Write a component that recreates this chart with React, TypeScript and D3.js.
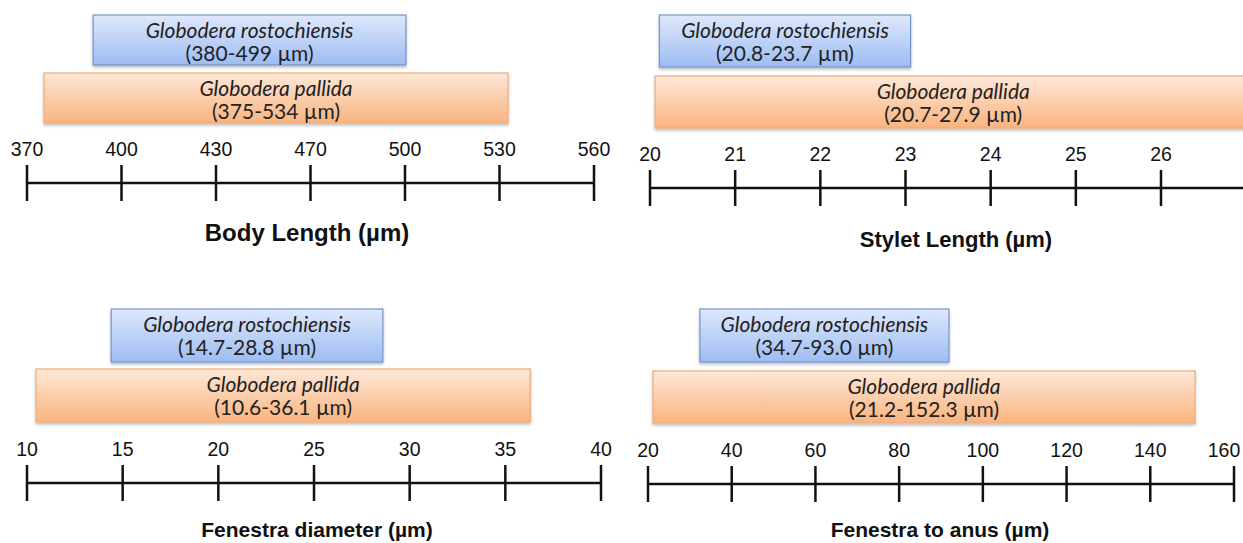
import React, { useEffect, useRef } from 'react'
import * as d3 from 'd3'

// tick labels of each number line
const bodyTicks = [370, 400, 430, 470, 500, 530, 560]
const styletTicks = [20, 21, 22, 23, 24, 25, 26]
const diameterTicks = [10, 15, 20, 25, 30, 35, 40]
const anusTicks = [20, 40, 60, 80, 100, 120, 140, 160]

const titles = ['Body Length (µm)', 'Stylet Length (µm)', 'Fenestra diameter (µm)', 'Fenestra to anus (µm)']
const species = ['Globodera rostochiensis', 'Globodera pallida']

// the ranges written inside the boxes
const rostoLabels = ['(380-499 µm)', '(20.8-23.7 µm)', '(14.7-28.8 µm)', '(34.7-93.0 µm)']
const pallidaLabels = ['(375-534 µm)', '(20.7-27.9 µm)', '(10.6-36.1 µm)', '(21.2-152.3 µm)']

// where the boxes actually sit against each axis
const rostoSpans = [[391, 500.3], [20.11, 23.06], [14.4, 28.6], [32.4, 91.9]]
const pallidaSpans = [[375.4, 532.7], [20.06, 27.06], [10.47, 36.3], [21.2, 150.7]]

const W = 1243
const H = 543

// layout of each panel
const panels = [
  { ticks: bodyTicks, x0: 27, x1: 594, lineEnd: 594, axisY: 183, rosto: [15, 50], pallida: [73, 50], titleX: 307, titleY: 241, titleSize: 24 },
  { ticks: styletTicks, x0: 650, x1: 1161, lineEnd: 1250, axisY: 188, rosto: [15, 52], pallida: [76, 52], titleX: 956, titleY: 247, titleSize: 22 },
  { ticks: diameterTicks, x0: 27, x1: 601, lineEnd: 601, axisY: 483, rosto: [309, 53], pallida: [369, 53], titleX: 317, titleY: 537, titleSize: 21 },
  { ticks: anusTicks, x0: 648, x1: 1234, lineEnd: 1234, axisY: 484, rosto: [309, 53], pallida: [371, 52], titleX: 940, titleY: 537, titleSize: 21 },
]

export default function App() {
  const ref = useRef<SVGSVGElement>(null)

  useEffect(() => {
    const svg = d3.select(ref.current)
    svg.selectAll('*').remove()

    const defs = svg.append('defs')
    const grad = (id: string, top: string, bottom: string) => {
      const g = defs.append('linearGradient').attr('id', id).attr('x1', 0).attr('y1', 0).attr('x2', 0).attr('y2', 1)
      g.append('stop').attr('offset', '0%').attr('stop-color', top)
      g.append('stop').attr('offset', '100%').attr('stop-color', bottom)
    }
    grad('blue', '#dfe8fc', '#9dbcf2')
    grad('orange', '#fee8d8', '#f9b47f')
    defs.append('filter').attr('id', 'shadow').attr('x', '-5%').attr('y', '-10%').attr('width', '110%').attr('height', '130%')
      .append('feDropShadow').attr('dx', 0).attr('dy', 2).attr('stdDeviation', 1.5)
      .attr('flood-color', '#000').attr('flood-opacity', 0.25)

    panels.forEach((p, i) => {
      const n = p.ticks.length
      // ticks are evenly spaced on the page even where the values are not
      const x = d3.scaleLinear()
        .domain(p.ticks)
        .range(p.ticks.map((_, k) => p.x0 + (k * (p.x1 - p.x0)) / (n - 1)))

      const g = svg.append('g')

      const boxes = [
        { span: rostoSpans[i], y: p.rosto, fill: 'url(#blue)', stroke: '#7393cc', name: species[0], label: rostoLabels[i] },
        { span: pallidaSpans[i], y: p.pallida, fill: 'url(#orange)', stroke: '#f0ab78', name: species[1], label: pallidaLabels[i] },
      ]

      boxes.forEach(b => {
        const left = x(b.span[0])
        const right = x(b.span[1])
        g.append('rect')
          .attr('x', left)
          .attr('y', b.y[0])
          .attr('width', right - left)
          .attr('height', b.y[1])
          .attr('fill', b.fill)
          .attr('stroke', b.stroke)
          .attr('stroke-width', 1.2)
          .attr('filter', 'url(#shadow)')
        const cx = (left + right) / 2
        g.append('text')
          .attr('x', cx)
          .attr('y', b.y[0] + 23)
          .attr('text-anchor', 'middle')
          .style('font-family', 'Lato, "Open Sans", sans-serif')
          .style('font-style', 'italic')
          .style('font-size', '21px')
          .style('fill', '#222')
          .text(b.name)
        g.append('text')
          .attr('x', cx)
          .attr('y', b.y[0] + 46)
          .attr('text-anchor', 'middle')
          .style('font-family', 'Lato, "Open Sans", sans-serif')
          .style('font-size', '21px')
          .style('fill', '#222')
          .text(b.label)
      })

      // number line
      g.append('line')
        .attr('x1', x(p.ticks[0]))
        .attr('x2', p.lineEnd)
        .attr('y1', p.axisY)
        .attr('y2', p.axisY)
        .attr('stroke', '#111')
        .attr('stroke-width', 2.5)

      g.selectAll('line.tick')
        .data(p.ticks)
        .enter()
        .append('line')
        .attr('class', 'tick')
        .attr('x1', d => x(d))
        .attr('x2', d => x(d))
        .attr('y1', p.axisY - 18)
        .attr('y2', p.axisY + 18)
        .attr('stroke', '#111')
        .attr('stroke-width', 2.5)

      g.selectAll('text.tick')
        .data(p.ticks)
        .enter()
        .append('text')
        .attr('class', 'tick')
        // keep the last label inside the picture
        .attr('x', d => Math.min(x(d), W - 19))
        .attr('y', p.axisY - 27)
        .attr('text-anchor', 'middle')
        .style('font-family', '"Liberation Sans", Arial, sans-serif')
        .style('font-size', '19.5px')
        .style('fill', '#111')
        .text(d => d)

      g.append('text')
        .attr('x', p.titleX)
        .attr('y', p.titleY)
        .attr('text-anchor', 'middle')
        .style('font-family', '"Liberation Sans", Arial, sans-serif')
        .style('font-weight', 'bold')
        .style('font-size', `${p.titleSize}px`)
        .style('fill', '#111')
        .text(titles[i])
    })
  }, [])

  return (
    <svg
      ref={ref}
      width={W}
      height={H}
      style={{ position: 'absolute', left: 0, top: 0, background: '#fff' }}
    />
  )
}
